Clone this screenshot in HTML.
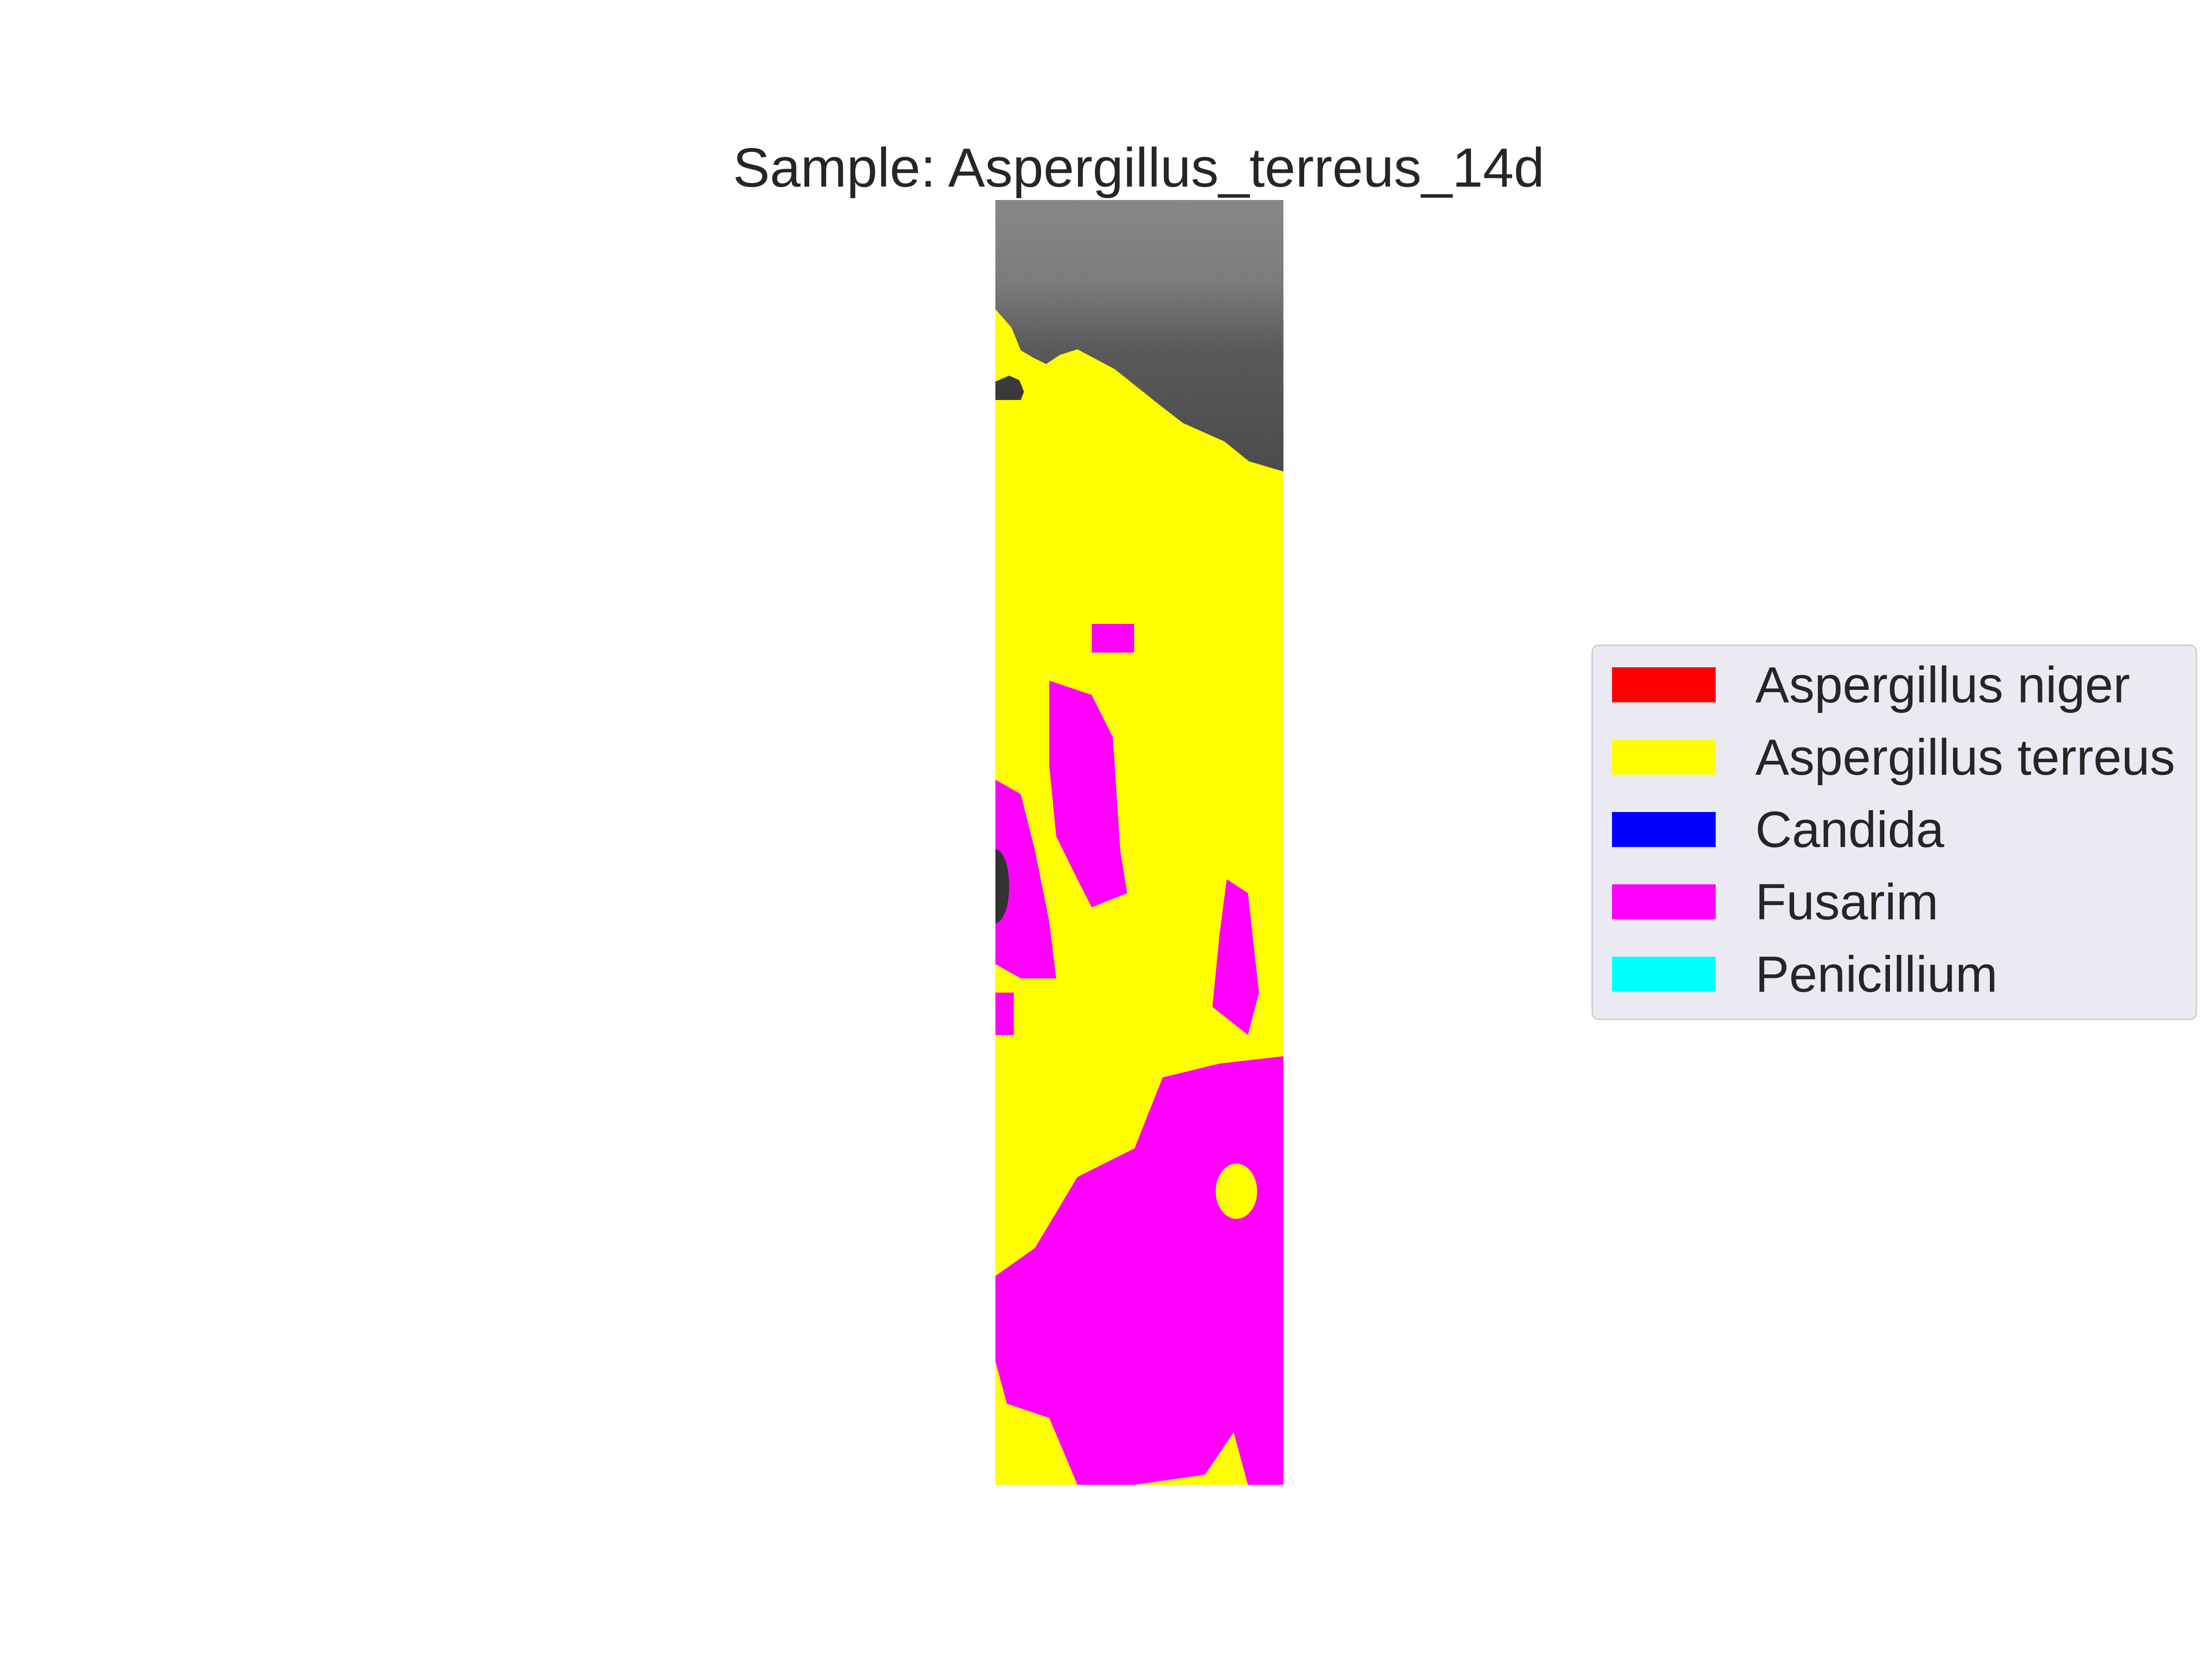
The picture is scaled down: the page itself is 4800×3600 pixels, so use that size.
<!DOCTYPE html>
<html><head><meta charset="utf-8"><style>
html,body{margin:0;padding:0;background:#fff;}
svg{display:block;font-family:"Liberation Sans","DejaVu Sans",sans-serif;}
</style></head><body>
<svg id="chart" width="4800" height="3600" viewBox="0 0 4800 3600">
<defs>
<linearGradient id="grayGrad" x1="0" y1="0" x2="0" y2="1">
<stop offset="0" stop-color="#7c7c7c"/><stop offset="0.3" stop-color="#6e6e6e"/>
<stop offset="0.55" stop-color="#454545"/><stop offset="1" stop-color="#333"/>
</linearGradient>
<filter id="noise" x="0" y="0" width="1" height="1">
<feTurbulence type="fractalNoise" baseFrequency="0.6" numOctaves="1" seed="3"/>
<feColorMatrix type="matrix" values="0 0 0 0 0.5  0 0 0 0 0.5  0 0 0 0 0.5  0 0 0 0.35 0"/>
</filter>
<clipPath id="imgClip"><rect x="2160" y="434" width="625" height="2788"/></clipPath>
<clipPath id="grayClip"><path d="M2160,434 L2785,434 L2785,1023 L2710,1001 L2657,958 L2567,918 L2509,873 L2419,801 L2338,758 L2300,770 L2270,790 L2240,775 L2215,760 L2195,711 L2160,671 Z"/></clipPath>
</defs>
<text x="2471" y="405" text-anchor="middle" font-size="120" fill="#262626">Sample: Aspergillus_terreus_14d</text>
<g id="image" clip-path="url(#imgClip)">
<rect x="2160" y="434" width="625" height="2788" fill="#ffff00"/>
<path fill="url(#grayGrad)" d="M2160,434 L2785,434 L2785,1023 L2710,1001 L2657,958 L2567,918 L2509,873 L2419,801 L2338,758 L2300,770 L2270,790 L2240,775 L2215,760 L2195,711 L2160,671 Z"/>
<g clip-path="url(#grayClip)"><rect x="2160" y="434" width="625" height="600" filter="url(#noise)"/></g>
<path fill="#3a3a3a" d="M2160,828 L2190,815 L2212,825 L2222,850 L2215,868 L2160,868 Z"/>
<g fill="#ff00ff">
<path d="M2160,2769 L2246,2708 L2338,2554 L2462,2492 L2523,2338 L2646,2308 L2785,2292 L2785,3222 L2708,3222 L2677,3108 L2615,3200 L2462,3222 L2338,3222 L2277,3077 L2185,3046 L2160,2954 Z"/>
<path d="M2277,1477 L2369,1508 L2415,1600 L2431,1846 L2446,1938 L2369,1969 L2338,1908 L2292,1815 L2277,1662 Z"/>
<path d="M2160,1692 L2215,1723 L2246,1846 L2277,2000 L2292,2123 L2215,2123 L2160,2092 Z"/>
<path d="M2662,1908 L2708,1938 L2732,2154 L2708,2246 L2631,2185 L2646,2031 Z"/>
<rect x="2369" y="1354" width="92" height="62"/>
<rect x="2160" y="2154" width="40" height="92"/>
</g>
<ellipse cx="2683" cy="2585" rx="45" ry="60" fill="#ffff00"/>
<ellipse cx="2160" cy="1923" rx="30" ry="80" fill="#333"/>
</g>
<g id="legend"></g>
<script>
const legendLabels = ["Aspergillus niger","Aspergillus terreus","Candida","Fusarim","Penicillium"];
const legendColors = ["#ff0000","#ffff00","#0000ff","#ff00ff","#00ffff"];
const NS = "http://www.w3.org/2000/svg";
const lg = document.getElementById("legend");
const box = document.createElementNS(NS,"rect");
box.setAttribute("x",3455);box.setAttribute("y",1400);box.setAttribute("width",1311);box.setAttribute("height",812);
box.setAttribute("rx",14);box.setAttribute("fill","#eaeaf2");box.setAttribute("stroke","#cccccc");box.setAttribute("stroke-width",3);


lg.appendChild(box);
legendLabels.forEach(function(lab,i){
  const cy = 1486 + i*157;
  const r = document.createElementNS(NS,"rect");
  r.setAttribute("x",3498);r.setAttribute("y",cy-38);r.setAttribute("width",225);r.setAttribute("height",76);
  r.setAttribute("fill",legendColors[i]);
  
  
  lg.appendChild(r);
  const t = document.createElementNS(NS,"text");
  t.setAttribute("x",3809);t.setAttribute("y",cy+38);t.setAttribute("font-size",110);t.setAttribute("fill","#262626");
  t.textContent = lab;
  
  
  lg.appendChild(t);
});
</script>
</svg>
</body></html>
